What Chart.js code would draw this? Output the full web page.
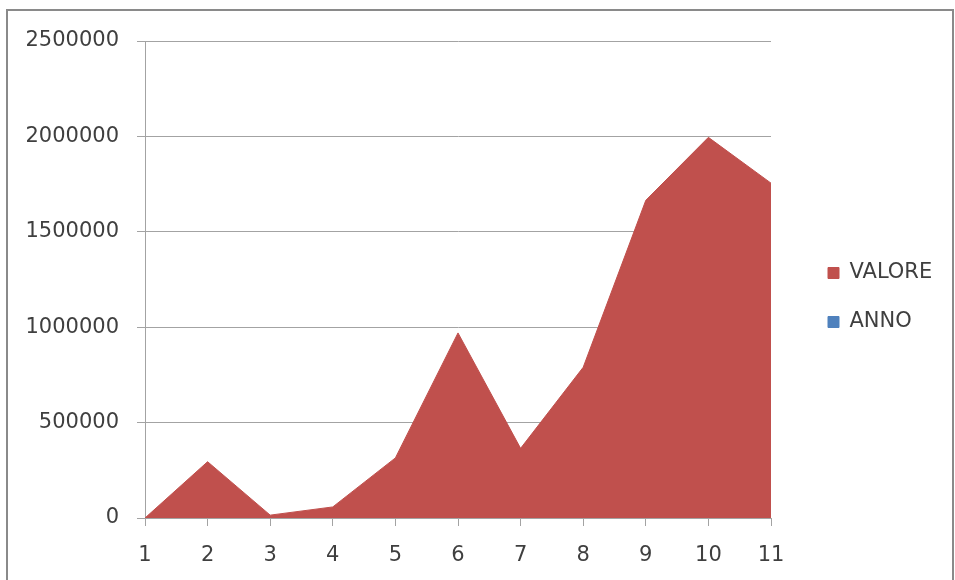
<!DOCTYPE html>
<html>
<head>
<meta charset="utf-8">
<script src="https://cdn.jsdelivr.net/npm/chart.js@4/dist/chart.umd.min.js"></script>
<style>
  html, body { margin: 0; padding: 0; background: #ffffff; overflow: hidden; }
  #wrap { position: relative; width: 955px; height: 580px; }
  #c { position: absolute; left: 0; top: 0; width: 955px; height: 580px; }
  #frame {
    position: absolute; left: 6px; top: 9px; width: 944px; height: 620px;
    border: 2px solid #8a8a8a; pointer-events: none;
  }
</style>
</head>
<body>
<div id="wrap">
  <canvas id="c" width="955" height="580"></canvas>
  <div id="frame"></div>
</div>
<script>
// Categories along the horizontal axis
const categories = ['1', '2', '3', '4', '5', '6', '7', '8', '9', '10', '11'];

// Series values
const valore = [0, 295000, 15000, 58000, 315000, 970000, 365000, 790000, 1665000, 1995000, 1755000];
const anno = [];

// Vertical axis tick values
const yTicks = [0, 500000, 1000000, 1500000, 2000000, 2500000];

const FONT = { family: 'DejaVu Sans', size: 21 };
const TEXT = '#3f3f3f';
const GRID = '#a3a3a3';

// Keeps the legend in its own column to the right of the plot
const legendColumn = {
  id: 'legendColumn',
  beforeLayout(chart) {
    const lg = chart.legend;
    if (lg && !lg._fixedFit) {
      const fit = lg.fit.bind(lg);
      lg.fit = function () { fit(); this.width = 184; };
      lg._fixedFit = true;
    }
  },
  afterLayout(chart) {
    const lg = chart.legend;
    if (!lg) return;
    const w = lg.width, h = lg.height;
    lg.left = 800; lg.right = 800 + w;
    lg.top = 234.5; lg.bottom = 234.5 + h;
  }
};

new Chart(document.getElementById('c'), {
  type: 'line',
  data: {
    labels: categories,
    datasets: [
      {
        label: 'VALORE',
        data: valore,
        fill: 'origin',
        backgroundColor: '#C0504D',
        borderColor: '#C0504D',
        borderWidth: 1,
        pointRadius: 0,
        pointHoverRadius: 0,
        tension: 0
      },
      {
        label: 'ANNO',
        data: anno,
        fill: 'origin',
        backgroundColor: '#4F81BD',
        borderColor: '#4F81BD',
        borderWidth: 1,
        pointRadius: 0,
        tension: 0
      }
    ]
  },
  options: {
    responsive: false,
    animation: false,
    events: [],
    layout: { padding: { left: 0, top: 41, right: 0, bottom: 0 } },
    plugins: {
      tooltip: { enabled: false },
      legend: {
        position: 'right',
        align: 'start',
        labels: {
          boxWidth: 11,
          boxHeight: 11,
          padding: 28,
          color: TEXT,
          font: FONT
        }
      }
    },
    scales: {
      x: {
        type: 'category',
        offset: false,
        grid: { drawOnChartArea: false, drawTicks: true, tickLength: 8, color: GRID },
        border: { color: GRID, width: 1 },
        ticks: { color: TEXT, font: FONT, padding: 17, maxRotation: 0, autoSkip: false },
        afterFit(s) { s.height = 62; }
      },
      y: {
        min: 0,
        max: 2500000,
        grid: { color: GRID, lineWidth: 1, drawTicks: true, tickLength: 8 },
        border: { color: GRID, width: 1 },
        ticks: {
          color: TEXT,
          font: FONT,
          padding: 18,
          callback: v => String(v)
        },
        afterBuildTicks(s) { s.ticks = yTicks.map(v => ({ value: v })); },
        afterFit(s) { s.width = 145; }
      }
    }
  },
  plugins: [legendColumn]
});
</script>
</body>
</html>
